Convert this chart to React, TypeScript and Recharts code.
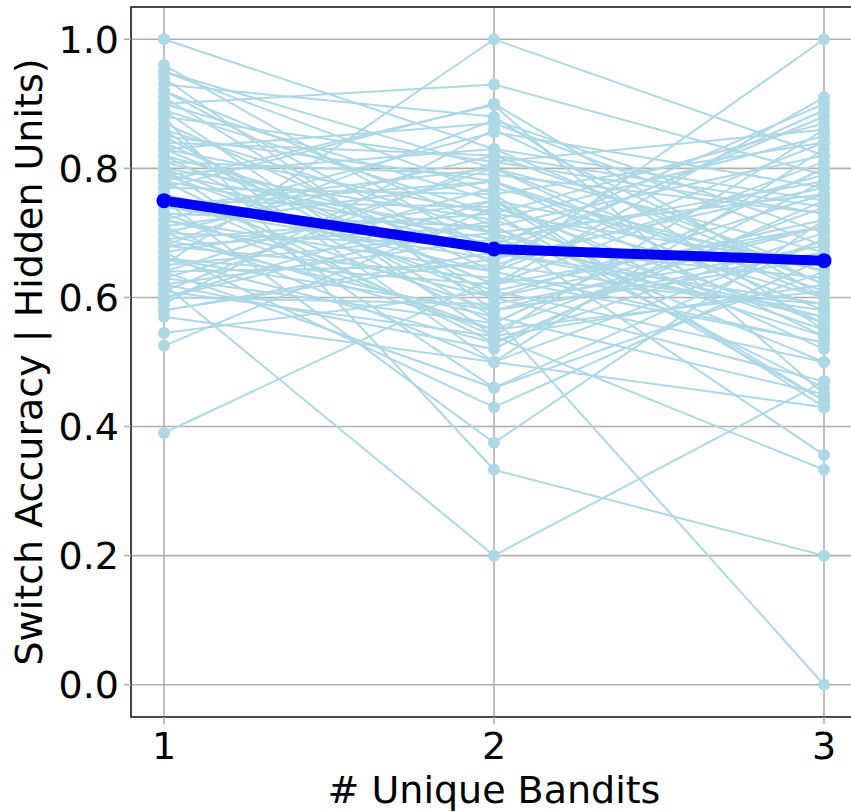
import { LineChart, Line, XAxis, YAxis, CartesianGrid, ReferenceArea } from 'recharts';

const bandits = [1, 2, 3];
const yTicks = [0, 0.2, 0.4, 0.6, 0.8, 1.0];

// one entry per network, same index across the three arrays
const accOne = [
  1.0, 0.96, 0.95, 0.94, 0.93, 0.92, 0.91, 0.9, 0.9, 0.89,
  0.88, 0.87, 0.86, 0.86, 0.85, 0.84, 0.83, 0.83, 0.82, 0.81,
  0.81, 0.8, 0.8, 0.79, 0.79, 0.78, 0.78, 0.77, 0.77, 0.76,
  0.76, 0.75, 0.75, 0.74, 0.74, 0.73, 0.73, 0.72, 0.72, 0.71,
  0.71, 0.7, 0.7, 0.69, 0.69, 0.68, 0.68, 0.67, 0.67, 0.66,
  0.66, 0.65, 0.65, 0.64, 0.64, 0.63, 0.63, 0.62, 0.62, 0.61,
  0.61, 0.6, 0.6, 0.59, 0.58, 0.57, 0.545, 0.525, 0.39, 0.95,
  0.92, 0.88, 0.85, 0.84, 0.82, 0.8, 0.78, 0.76, 0.74, 0.72,
  0.7, 0.68, 0.66, 0.64, 0.62, 0.6, 0.58, 0.89, 0.83, 0.79,
];
const accTwo = [
  0.83, 0.67, 0.8, 0.58, 0.88, 0.71, 0.6, 0.93, 0.75, 0.54,
  0.81, 0.64, 0.7, 0.5, 0.78, 0.62, 0.73, 0.87, 0.56, 0.67,
  0.79, 0.46, 0.72, 0.61, 0.83, 0.69, 0.53, 0.76, 0.9, 0.64,
  0.58, 0.74, 0.375, 0.8, 0.66, 0.55, 0.71, 0.856, 0.6, 0.78,
  0.5, 0.68, 0.82, 0.57, 0.73, 0.63, 0.875, 0.43, 0.75, 0.62,
  0.53, 0.7, 1.0, 0.65, 0.46, 0.77, 0.56, 0.2, 0.69, 0.81,
  0.54, 0.72, 0.59, 0.86, 0.66, 0.5, 0.61, 0.74, 0.63, 0.76,
  0.65, 0.333, 0.57, 0.82, 0.68, 0.6, 0.898, 0.54, 0.78, 0.64,
  0.55, 0.71, 0.58, 0.8, 0.52, 0.75, 0.67, 0.73, 0.62, 0.7,
];
const accThree = [
  0.75, 0.88, 0.6, 0.71, 0.55, 0.82, 0.47, 0.79, 0.65, 0.62,
  0.86, 0.53, 0.76, 0.69, 0.58, 0.91, 0.44, 0.68, 0.8, 0.57,
  0.73, 0.64, 0.85, 0.5, 0.62, 0.78, 0.7, 0.43, 0.6, 0.84,
  0.66, 0.56, 0.72, 0.67, 0.89, 0.61, 0.46, 0.77, 0.71, 0.54,
  0.83, 0.63, 0.74, 0.45, 0.87, 0.59, 0.7, 0.66, 0.52, 0.81,
  0.75, 0.356, 0.82, 0.58, 0.69, 0.64, 0.8, 0.47, 0.57, 0.73,
  0.86, 0.55, 0.68, 0.62, 0.77, 0.43, 0.72, 0.6, 0.53, 0.84,
  0.79, 0.2, 0.0, 0.64, 0.9, 0.76, 0.45, 0.333, 0.61, 1.0,
  0.74, 0.5, 0.67, 0.56, 0.78, 0.44, 0.59, 0.65, 0.71, 0.54,
];
const meanAcc = [0.75, 0.675, 0.657];

const columns = [accOne, accTwo, accThree];

const rows = bandits.map((b, j) => {
  const row: Record<string, number> = { x: b, mean: meanAcc[j] };
  columns[j].forEach((v, i) => {
    row[`s${i}`] = v;
  });
  return row;
});

const FONT = '"DejaVu Sans", sans-serif';
const tickStyle = { fontSize: 38, fill: '#000', fontFamily: FONT };

export default function App() {
  return (
    <div style={{ position: 'absolute', left: 0, top: 0, width: 851, height: 812, overflow: 'hidden', background: '#fff' }}>
      <LineChart width={880} height={812} data={rows} margin={{ top: 7, right: 23, left: 0, bottom: 0 }}>
        <CartesianGrid stroke="#b0b0b0" strokeWidth={1.6} />
        <XAxis
          dataKey="x"
          type="number"
          domain={[0.9, 3.1]}
          ticks={bandits}
          height={95}
          tick={tickStyle}
          tickSize={7}
          tickMargin={8}
          tickLine={{ stroke: '#b0b0b0', strokeWidth: 1.6 }}
          axisLine={false}
          label={{ value: '# Unique Bandits', position: 'insideBottom', offset: 9, style: { fontSize: 38, fill: '#000', fontFamily: FONT } }}
        />
        <YAxis
          type="number"
          domain={[-0.05, 1.05]}
          ticks={yTicks}
          width={131}
          tick={tickStyle}
          tickSize={7}
          tickMargin={5}
          tickFormatter={(v: number) => v.toFixed(1)}
          tickLine={{ stroke: '#b0b0b0', strokeWidth: 1.6 }}
          axisLine={false}
          label={{ value: 'Switch Accuracy | Hidden Units)', angle: -90, position: 'insideLeft', offset: 29, style: { fontSize: 38, fill: '#000', fontFamily: FONT, textAnchor: 'middle' } }}
        />
        {accOne.map((_, i) => (
          <Line
            key={i}
            dataKey={`s${i}`}
            stroke="#add8e6"
            strokeWidth={2}
            dot={{ r: 6, fill: '#add8e6', stroke: 'none' }}
            isAnimationActive={false}
          />
        ))}
        <Line
          dataKey="mean"
          stroke="#0000ff"
          strokeWidth={10}
          dot={{ r: 7.5, fill: '#0000ff', stroke: 'none' }}
          isAnimationActive={false}
        />
        <ReferenceArea x1={0.9} x2={3.1} y1={-0.05} y2={1.05} fill="none" stroke="#222" strokeWidth={1.6} ifOverflow="visible" />
      </LineChart>
    </div>
  );
}
